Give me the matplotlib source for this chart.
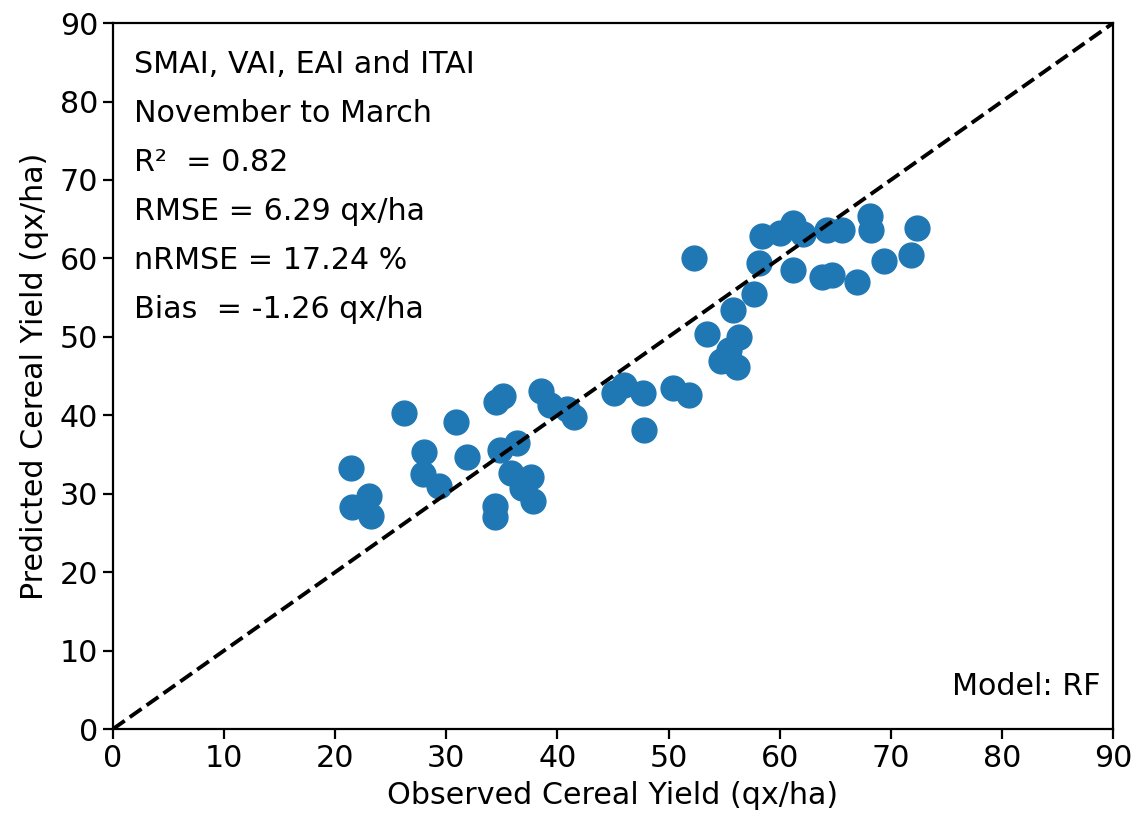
import numpy as np
import matplotlib.pyplot as plt

# observed vs predicted cereal yield (qx/ha)
observed = [21.4, 21.5, 23.0, 23.2, 26.2, 28.0, 27.9, 29.3, 30.9, 31.9,
            34.5, 35.1, 34.8, 36.4, 34.4, 34.4, 35.8, 36.8, 37.6, 37.8,
            38.5, 39.3, 40.9, 41.5, 45.1, 46.0, 47.7, 47.8, 50.4, 51.8,
            52.3, 53.5, 54.7, 55.4, 56.3, 56.2, 55.8, 57.7, 58.1, 58.4,
            60.0, 61.2, 62.1, 61.2, 63.8, 64.7, 64.3, 65.6, 67.0, 68.1,
            68.2, 69.4, 71.8, 72.4]
predicted = [33.3, 28.3, 29.7, 27.2, 40.3, 35.3, 32.5, 31.0, 39.2, 34.7,
             41.7, 42.4, 35.6, 36.5, 28.4, 27.0, 32.7, 30.7, 32.1, 29.1,
             43.1, 41.3, 40.8, 39.8, 42.9, 43.9, 42.9, 38.1, 43.5, 42.6,
             60.1, 50.4, 46.9, 48.3, 50.0, 46.2, 53.4, 55.5, 59.4, 62.9,
             63.3, 64.5, 63.1, 58.5, 57.6, 57.9, 63.6, 63.6, 57.0, 65.4,
             63.6, 59.7, 60.5, 63.9]

stats_lines = ["SMAI, VAI, EAI and ITAI",
               "November to March",
               "R\u00b2  = 0.82",
               "RMSE = 6.29 qx/ha",
               "nRMSE = 17.24 %",
               "Bias  = -1.26 qx/ha"]

fs = 21.7

fig = plt.figure(figsize=(11.34, 8.26), dpi=100)
ax = fig.add_axes([0.0996, 0.1174, 0.8819, 0.8546])

ax.scatter(observed, predicted, s=320, color='#1f77b4', zorder=2)
ax.plot([0, 90], [0, 90], 'k--', lw=2.8, zorder=3)

ax.set_xlim(0, 90)
ax.set_ylim(0, 90)
ax.set_xticks(np.arange(0, 91, 10))
ax.set_yticks(np.arange(0, 91, 10))
ax.tick_params(labelsize=fs, width=1.6, length=7)
for sp in ax.spines.values():
    sp.set_linewidth(1.6)

ax.set_xlabel("Observed Cereal Yield (qx/ha)", fontsize=fs, labelpad=6)
ax.set_ylabel("Predicted Cereal Yield (qx/ha)", fontsize=fs, labelpad=8)

for i, line in enumerate(stats_lines):
    ax.text(0.021, 0.929 - i * 0.0694, line, transform=ax.transAxes,
            fontsize=fs, va='baseline', ha='left')
ax.text(0.987, 0.048, "Model: RF", transform=ax.transAxes,
        fontsize=fs, va='baseline', ha='right')

fig.savefig("out.png", dpi=100)
